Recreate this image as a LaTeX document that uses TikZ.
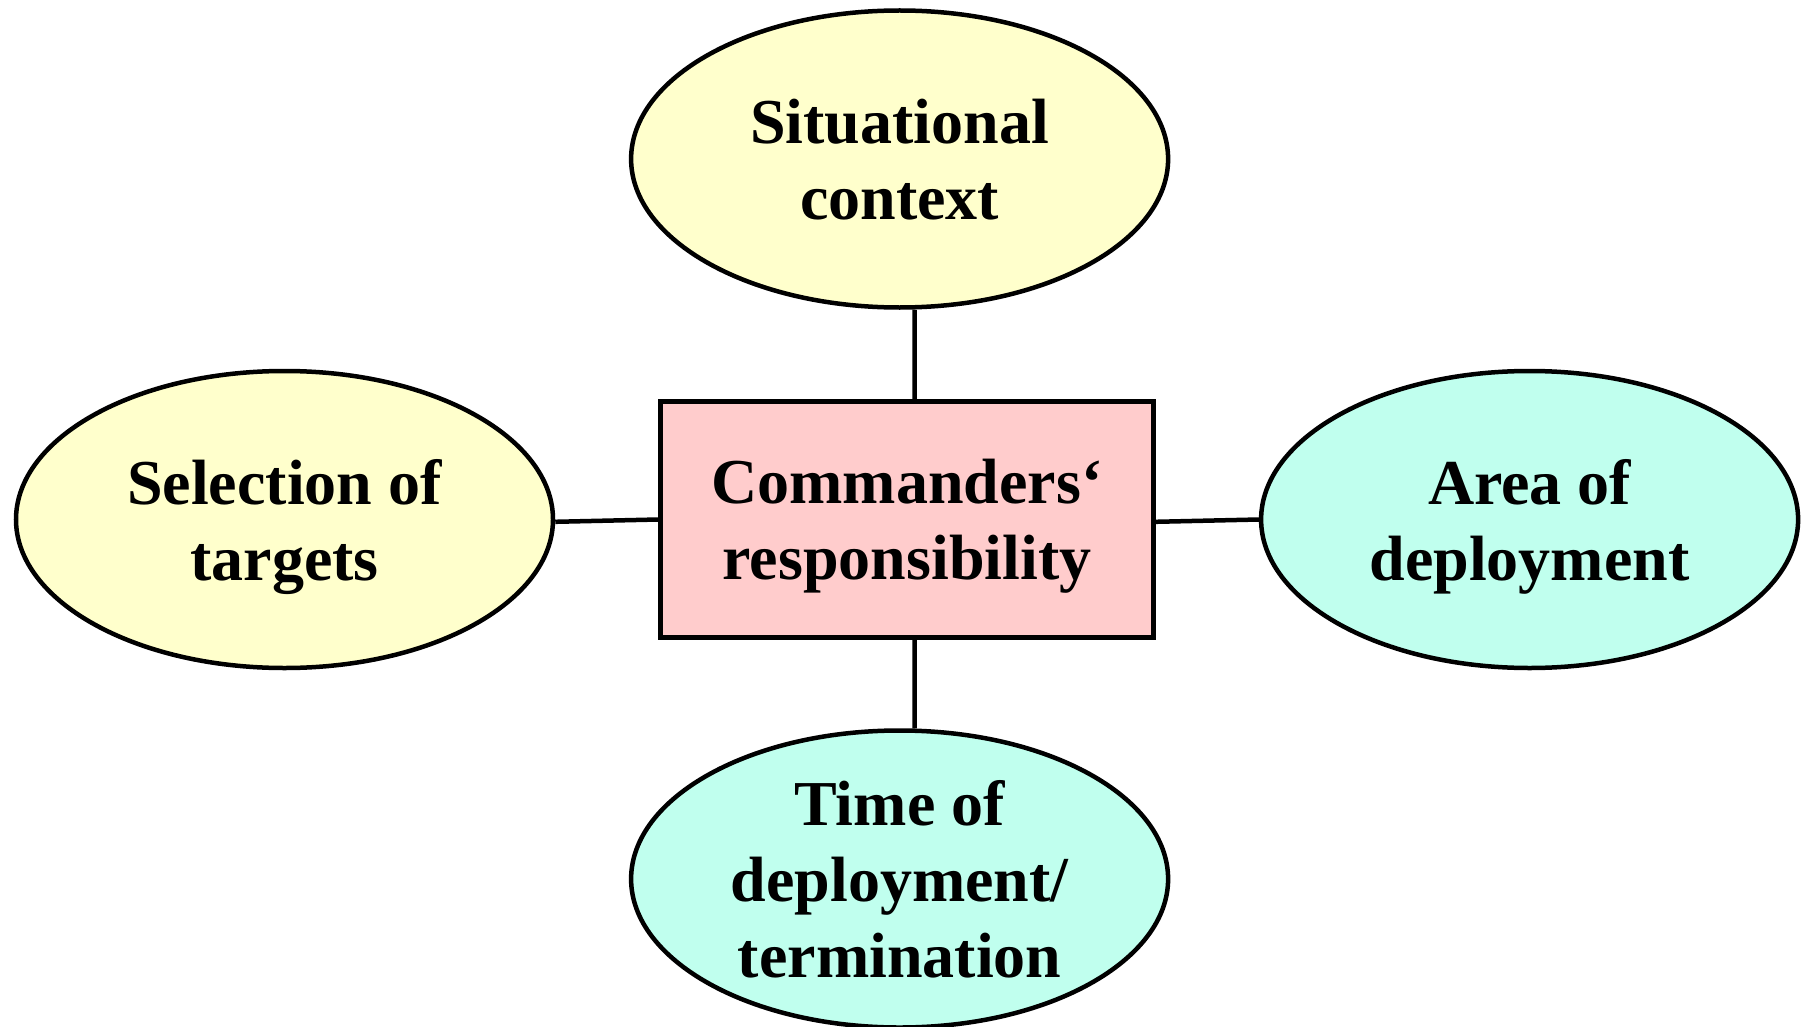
\documentclass[tikz,border=0pt]{standalone}
\usepackage{fontspec}
\setmainfont{Liberation Serif}
\usetikzlibrary{shapes.geometric}
\definecolor{yel}{HTML}{FFFFCC}
\definecolor{cyn}{HTML}{C0FFEE}
\definecolor{pnk}{HTML}{FFCCCC}
\tikzset{
  bubble/.style={ellipse, draw=black, line width=4.5pt, minimum width=537pt, minimum height=297pt, inner sep=0pt, align=center, text depth=0pt, font=\bfseries\fontsize{64}{76}\selectfont},
  centre/.style={rectangle, draw=black, line width=4.5pt, minimum width=493pt, minimum height=236pt, inner sep=0pt, align=center, text depth=0pt, font=\bfseries\fontsize{64}{76}\selectfont},
  link/.style={draw=black, line width=4.5pt}
}
\begin{document}
\begin{tikzpicture}[x=1pt,y=-1pt]
\useasboundingbox (0,0) rectangle (1806,1027);
\node[centre, fill=pnk] (c) at (907,519.5) {Commanders‘\\responsibility};
\node[bubble, fill=yel] (t) at (899.6,159) {Situational\\context};
\node[bubble, fill=yel] (l) at (284.5,519.5) {Selection of\\targets};
\node[bubble, fill=cyn] (r) at (1529.6,519.5) {Area of\\deployment};
\node[bubble, fill=cyn] (b) at (899.6,879) {Time of\\deployment/\\termination};
\draw[link] ([xshift=15pt]t.south) -- ([xshift=7.5pt]c.north);
\draw[link] ([xshift=7.5pt]c.south) -- ([xshift=15pt]b.north);
\draw[link] ([yshift=-2.3pt]l.east) -- (c.west);
\draw[link] ([yshift=-2.3pt]c.east) -- (r.west);
\end{tikzpicture}
\end{document}
